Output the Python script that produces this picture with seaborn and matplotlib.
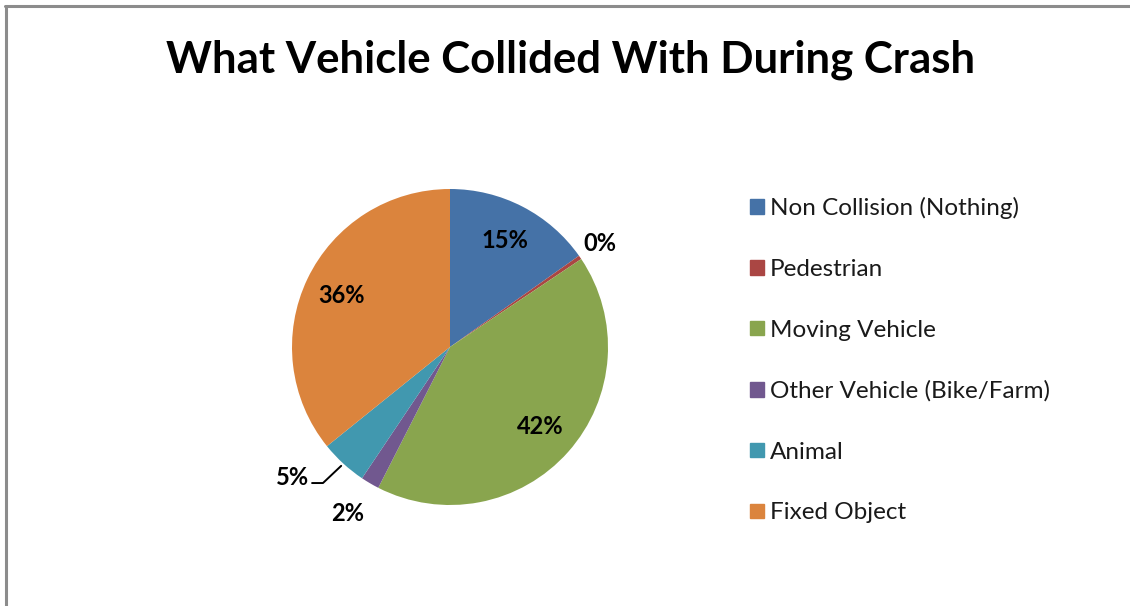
import numpy as np
import matplotlib
matplotlib.use("Agg")
import matplotlib.pyplot as plt
import seaborn as sns

categories = ["Non Collision (Nothing)", "Pedestrian", "Moving Vehicle",
              "Other Vehicle (Bike/Farm)", "Animal", "Fixed Object"]
values = [15.2, 0.4, 41.9, 1.9, 4.8, 35.8]
labels = ["15%", "0%", "42%", "2%", "5%", "36%"]
colors = ["#4572A7", "#AA4643", "#89A54E", "#71588F", "#4198AF", "#DB843D"]
title = "What Vehicle Collided With During Crash"

sns.set_theme(style="white")
plt.rcParams["font.family"] = ["Lato", "DejaVu Sans"]
palette = sns.color_palette(colors)

W, H = 1130, 606
fig = plt.figure(figsize=(W / 100, H / 100), dpi=100)
fig.patch.set_facecolor("white")

# chart border (top & left visible)
fig.add_artist(plt.Line2D([5 / W, 1.0], [1 - 5.5 / H, 1 - 5.5 / H], color="#8c8c8c", lw=2.2))
fig.add_artist(plt.Line2D([5.5 / W, 5.5 / W], [0, 1 - 5.5 / H], color="#8c8c8c", lw=2.2))

fig.text(571 / W, 1 - 60 / H, title, ha="center", va="center",
         fontsize=31.5, fontweight="bold", color="black")

cx, cy, r = 450, 347, 158
ax = fig.add_axes([(cx - r) / W, (H - cy - r) / H, 2 * r / W, 2 * r / H])
wedges, _ = ax.pie(values, colors=palette, startangle=90, counterclock=False,
                   radius=1, wedgeprops=dict(linewidth=0))
ax.set_xlim(-1, 1)
ax.set_ylim(-1, 1)
ax.set_aspect("equal")
ax.axis("off")

total = sum(values)
cum = np.cumsum([0] + values)
inside_r = 0.76
outside = {1: 1.15, 3: 1.22}
lab_fs = 17
for i, lab in enumerate(labels):
    mid = (cum[i] + cum[i + 1]) / 2 / total * 2 * np.pi
    sx, sy = np.sin(mid), np.cos(mid)
    if i == 4:
        # leader line for small Animal slice
        p0 = (1.02 * sx, 1.02 * sy)
        p1 = (-0.804, -0.861)
        p2 = (-0.873, -0.861)
        ax.plot([p0[0], p1[0], p2[0]], [p0[1], p1[1], p2[1]], color="black",
                lw=1.4, clip_on=False)
        ax.text(-0.89, -0.825, lab, ha="right", va="center", fontsize=lab_fs,
                fontweight="bold", color="black")
        continue
    rr = outside.get(i, inside_r)
    dx = -0.03 if i == 3 else 0.0
    ax.text(rr * sx + dx, rr * sy, lab, ha="center", va="center", fontsize=lab_fs,
            fontweight="bold", color="black")

# legend
handles = [plt.Rectangle((0, 0), 1, 1, color=c) for c in palette]
leg = fig.legend(handles, categories, loc="upper left",
                 bbox_to_anchor=(738 / W, 1 - 185 / H), frameon=False,
                 fontsize=17.5, labelspacing=1.635, handlelength=0.55,
                 handleheight=0.55, handletextpad=0.27, borderpad=0)
for t in leg.get_texts():
    t.set_color("#1a1a1a")

fig.savefig("out.png", dpi=100, facecolor="white")
